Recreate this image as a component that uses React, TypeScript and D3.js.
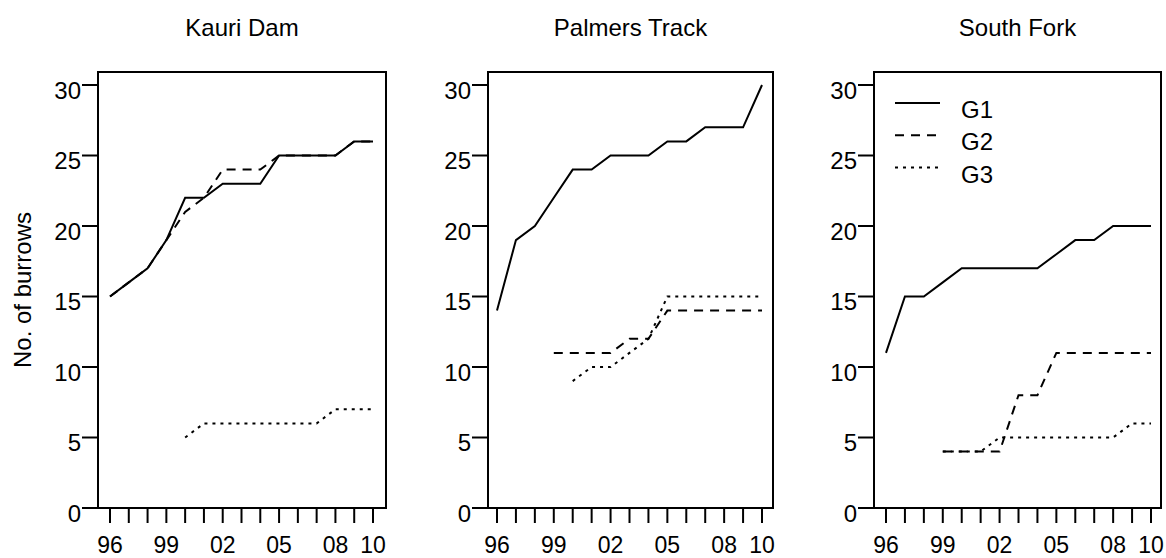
import React from "react";
import * as d3 from "d3";

// Survey years and their short labels
const years = [1996, 1997, 1998, 1999, 2000, 2001, 2002, 2003, 2004, 2005, 2006, 2007, 2008, 2009, 2010];
const xTickLabels: [number, string][] = [
  [1996, "96"], [1999, "99"], [2002, "02"], [2005, "05"], [2008, "08"], [2010, "10"],
];
const yTicks = [0, 5, 10, 15, 20, 25, 30];

const siteNames = ["Kauri Dam", "Palmers Track", "South Fork"];
const groupNames = ["G1", "G2", "G3"];

// Cumulative number of burrows per group at each site (null = not yet monitored)
const kauriG1 = [15, 16, 17, 19, 22, 22, 23, 23, 23, 25, 25, 25, 25, 26, 26];
const kauriG2 = [15, 16, 17, 19, 21, 22, 24, 24, 24, 25, 25, 25, 25, 26, 26];
const kauriG3 = [null, null, null, null, 5, 6, 6, 6, 6, 6, 6, 6, 7, 7, 7];

const palmersG1 = [14, 19, 20, 22, 24, 24, 25, 25, 25, 26, 26, 27, 27, 27, 30];
const palmersG2 = [null, null, null, 11, 11, 11, 11, 12, 12, 14, 14, 14, 14, 14, 14];
const palmersG3 = [null, null, null, null, 9, 10, 10, 11, 12, 15, 15, 15, 15, 15, 15];

const southG1 = [11, 15, 15, 16, 17, 17, 17, 17, 17, 18, 19, 19, 20, 20, 20];
const southG2 = [null, null, null, 4, 4, 4, 4, 8, 8, 11, 11, 11, 11, 11, 11];
const southG3 = [null, null, null, 4, 4, 4, 5, 5, 5, 5, 5, 5, 5, 6, 6];

const siteSeries: (number | null)[][][] = [
  [kauriG1, kauriG2, kauriG3],
  [palmersG1, palmersG2, palmersG3],
  [southG1, southG2, southG3],
];

// Layout of the three panels
const W = 1166;
const H = 558;
const boxTop = 72;
const boxBottom = 508;
const y0 = 508;
const y30 = 85;
const panels = [
  { left: 98, right: 386, first: 110, last: 373 },
  { left: 488, right: 773, first: 497, last: 762 },
  { left: 874, right: 1161, first: 886, last: 1151 },
];
const dashes = [null, "9,7", "3,5"];
const FONT = "'Liberation Sans', Arial, Helvetica, sans-serif";
const FS = 24;

export default function App() {
  const y = d3.scaleLinear().domain([0, 30]).range([y0, y30]);

  return (
    <svg
      width={W}
      height={H}
      viewBox={`0 0 ${W} ${H}`}
      style={{ position: "absolute", left: 0, top: 0, background: "#fff" }}
      fontFamily={FONT}
    >
      <rect x={0} y={0} width={W} height={H} fill="#fff" />
      <text
        transform={`translate(31, 290) rotate(-90)`}
        textAnchor="middle"
        fontSize={FS}
        fill="#000"
      >
        No. of burrows
      </text>
      {panels.map((p, pi) => {
        const x = d3.scaleLinear().domain([1996, 2010]).range([p.first, p.last]);
        const line = d3
          .line<number | null>()
          .defined((d) => d != null)
          .x((_, i) => x(years[i]))
          .y((d) => y(d as number));
        const cx = (p.left + p.right) / 2;
        return (
          <g key={pi}>
            <text x={cx} y={36} textAnchor="middle" fontSize={FS} fill="#000">
              {siteNames[pi]}
            </text>
            <rect
              x={p.left}
              y={boxTop}
              width={p.right - p.left}
              height={boxBottom - boxTop}
              fill="none"
              stroke="#000"
              strokeWidth={2}
            />
            {yTicks.map((t) => (
              <g key={t}>
                <line x1={p.left - 16} x2={p.left} y1={y(t)} y2={y(t)} stroke="#000" strokeWidth={2} />
                <text x={p.left - 17} y={y(t) + 13.5} textAnchor="end" fontSize={FS} fill="#000">
                  {t}
                </text>
              </g>
            ))}
            {years.map((yr) => (
              <line
                key={yr}
                x1={x(yr)}
                x2={x(yr)}
                y1={boxBottom}
                y2={boxBottom + 15}
                stroke="#000"
                strokeWidth={2}
              />
            ))}
            {xTickLabels.map(([yr, lab]) => (
              <text key={yr} x={x(yr)} y={553} textAnchor="middle" fontSize={23} fill="#000">
                {lab}
              </text>
            ))}
            {siteSeries[pi].map((s, gi) => (
              <path
                key={gi}
                d={line(s) || ""}
                fill="none"
                stroke="#000"
                strokeWidth={2}
                strokeDasharray={dashes[gi] || undefined}
              />
            ))}
          </g>
        );
      })}
      {groupNames.map((g, gi) => {
        const ly = 103 + gi * 32.3;
        return (
          <g key={g}>
            <line
              x1={895}
              x2={940}
              y1={ly}
              y2={ly}
              stroke="#000"
              strokeWidth={2}
              strokeDasharray={dashes[gi] || undefined}
            />
            <text x={961} y={ly + 15} fontSize={FS} fill="#000">
              {g}
            </text>
          </g>
        );
      })}
    </svg>
  );
}
